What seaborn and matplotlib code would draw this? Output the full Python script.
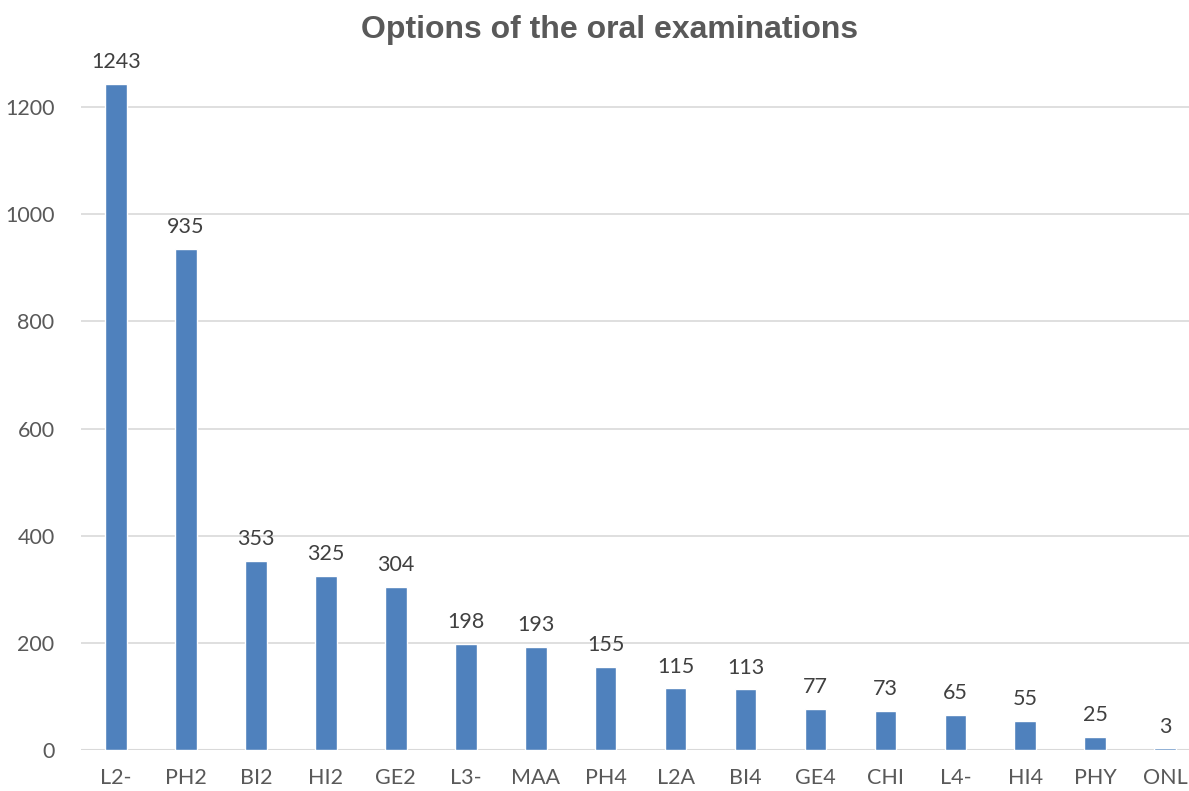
import matplotlib
matplotlib.use("Agg")
import matplotlib.pyplot as plt
import seaborn as sns
import pandas as pd

categories = ["L2-", "PH2", "BI2", "HI2", "GE2", "L3-", "MAA", "PH4", "L2A", "BI4",
              "GE4", "CHI", "L4-", "HI4", "PHY", "ONL"]
values = [1243, 935, 353, 325, 304, 198, 193, 155, 115, 113, 77, 73, 65, 55, 25, 3]
yticks = [0, 200, 400, 600, 800, 1000, 1200]
title = "Options of the oral examinations"

sns.set_theme(style="white")
plt.rcParams['font.family'] = ['Lato', 'DejaVu Sans']

df = pd.DataFrame({"cat": categories, "val": values})
fig = plt.figure(figsize=(11.89, 7.91), dpi=100)
ax = fig.add_axes([81/1189, 41/791, 1 - 81/1189, 690/791])
sns.barplot(data=df, x="cat", y="val", color="#4F81BD", saturation=1, width=0.31, ax=ax)

text_color = "#595959"
for i, v in enumerate(values):
    ax.text(i, v + 22, str(v), ha="center", va="bottom", fontsize=15.5, color="#404040")

ax.set_ylim(0, 1288)
ax.set_xlim(-0.5, 15.34)
ax.set_yticks(yticks)
ax.yaxis.grid(True, color="#D9D9D9", linewidth=1.2)
ax.set_axisbelow(True)
for s in ["top", "right", "left", "bottom"]:
    ax.spines[s].set_visible(False)
ax.axhline(0, color="#D9D9D9", linewidth=1.5, zorder=0)
ax.tick_params(axis="both", length=0, labelsize=15.5, labelcolor=text_color)
ax.tick_params(axis="y", pad=19)
ax.tick_params(axis="x", pad=13)
ax.set_xlabel("")
ax.set_ylabel("")
fig.text(610/1189, 1 - 30/791, title, ha="center", va="center", fontsize=23,
         fontweight="bold", color=text_color, family=["Liberation Sans", "DejaVu Sans"])
fig.savefig("out.png", dpi=100)
